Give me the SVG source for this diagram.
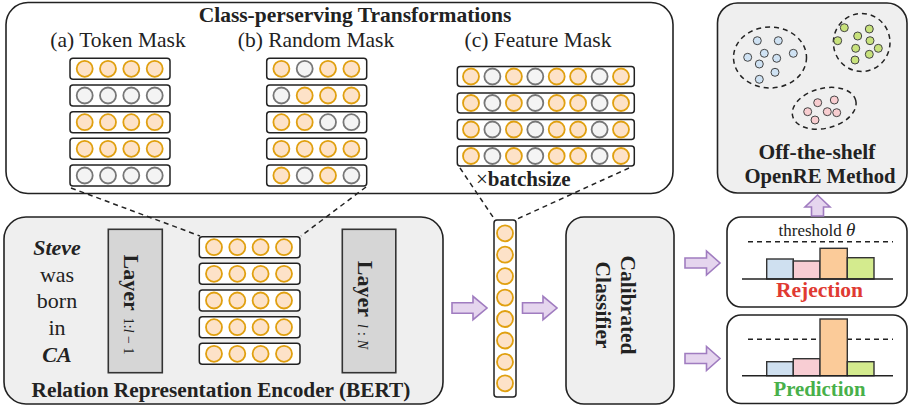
<svg xmlns="http://www.w3.org/2000/svg" width="909" height="410" viewBox="0 0 909 410">
<defs>
<style>
text{font-family:"Liberation Serif","Times New Roman",serif;fill:#222}
.panel{fill:#fff;stroke:#222;stroke-width:1.6}
.gpanel{fill:#efefef;stroke:#222;stroke-width:1.6}
.row{fill:#fff;stroke:#222;stroke-width:1.5}
.o{fill:#fde2c8;stroke:#e0a010;stroke-width:1.8}
.g{fill:#f4f4f4;stroke:#777;stroke-width:1.8}
.layer{fill:#d6d6d6;stroke:#333;stroke-width:1.6}
.dash{fill:none;stroke:#222;stroke-width:1.5;stroke-dasharray:5,4}
.arrow{fill:#e5d5ee;stroke:#a07cc0;stroke-width:1.6}
.axis{stroke:#222;stroke-width:1.6}
.bar{stroke:#333;stroke-width:1.4}
.dot{stroke:#444;stroke-width:1}
.b{font-weight:bold}
</style>
</defs>

<!-- Top panel: transformations -->
<g id="transformations">
<rect class="panel" x="6" y="2.5" width="667" height="191" rx="22"/>
<text class="b" x="355" y="22" font-size="21.5" text-anchor="middle">Class-perserving Transformations</text>
<text x="118" y="46.5" font-size="21.5" text-anchor="middle">(a) Token Mask</text>
<text x="316" y="46.5" font-size="21.5" text-anchor="middle">(b) Random Mask</text>
<text x="538" y="46.5" font-size="21.5" text-anchor="middle">(c) Feature Mask</text>
</g>

<g id="token-mask">
<rect class="row" x="70" y="58.3" width="100" height="21" rx="3"/>
<circle class="o" cx="84.7" cy="68.8" r="8"/><circle class="o" cx="108" cy="68.8" r="8"/><circle class="o" cx="131.3" cy="68.8" r="8"/><circle class="o" cx="154.7" cy="68.8" r="8"/>
<rect class="row" x="70" y="85" width="100" height="21" rx="3"/>
<circle class="g" cx="84.7" cy="95.5" r="8"/><circle class="g" cx="108" cy="95.5" r="8"/><circle class="g" cx="131.3" cy="95.5" r="8"/><circle class="g" cx="154.7" cy="95.5" r="8"/>
<rect class="row" x="70" y="111.7" width="100" height="21" rx="3"/>
<circle class="o" cx="84.7" cy="122.2" r="8"/><circle class="o" cx="108" cy="122.2" r="8"/><circle class="o" cx="131.3" cy="122.2" r="8"/><circle class="o" cx="154.7" cy="122.2" r="8"/>
<rect class="row" x="70" y="138.3" width="100" height="21" rx="3"/>
<circle class="o" cx="84.7" cy="148.8" r="8"/><circle class="o" cx="108" cy="148.8" r="8"/><circle class="o" cx="131.3" cy="148.8" r="8"/><circle class="o" cx="154.7" cy="148.8" r="8"/>
<rect class="row" x="70" y="165" width="100" height="21" rx="3"/>
<circle class="g" cx="84.7" cy="175.5" r="8"/><circle class="g" cx="108" cy="175.5" r="8"/><circle class="g" cx="131.3" cy="175.5" r="8"/><circle class="g" cx="154.7" cy="175.5" r="8"/>
</g>

<g id="random-mask">
<rect class="row" x="266.7" y="58.3" width="100" height="21" rx="3"/>
<circle class="o" cx="281.4" cy="68.8" r="8"/><circle class="g" cx="304.7" cy="68.8" r="8"/><circle class="o" cx="328" cy="68.8" r="8"/><circle class="o" cx="351.4" cy="68.8" r="8"/>
<rect class="row" x="266.7" y="85" width="100" height="21" rx="3"/>
<circle class="g" cx="281.4" cy="95.5" r="8"/><circle class="o" cx="304.7" cy="95.5" r="8"/><circle class="o" cx="328" cy="95.5" r="8"/><circle class="o" cx="351.4" cy="95.5" r="8"/>
<rect class="row" x="266.7" y="111.7" width="100" height="21" rx="3"/>
<circle class="o" cx="281.4" cy="122.2" r="8"/><circle class="o" cx="304.7" cy="122.2" r="8"/><circle class="g" cx="328" cy="122.2" r="8"/><circle class="g" cx="351.4" cy="122.2" r="8"/>
<rect class="row" x="266.7" y="138.3" width="100" height="21" rx="3"/>
<circle class="o" cx="281.4" cy="148.8" r="8"/><circle class="o" cx="304.7" cy="148.8" r="8"/><circle class="o" cx="328" cy="148.8" r="8"/><circle class="o" cx="351.4" cy="148.8" r="8"/>
<rect class="row" x="266.7" y="165" width="100" height="21" rx="3"/>
<circle class="o" cx="281.4" cy="175.5" r="8"/><circle class="g" cx="304.7" cy="175.5" r="8"/><circle class="o" cx="328" cy="175.5" r="8"/><circle class="g" cx="351.4" cy="175.5" r="8"/>
</g>

<g id="feature-mask">
<rect class="row" x="457.3" y="66.5" width="177" height="20" rx="3"/>
<circle class="o" cx="471" cy="76.5" r="8"/><circle class="g" cx="492.4" cy="76.5" r="8"/><circle class="o" cx="513.9" cy="76.5" r="8"/><circle class="g" cx="535.3" cy="76.5" r="8"/><circle class="o" cx="556.7" cy="76.5" r="8"/><circle class="o" cx="578.1" cy="76.5" r="8"/><circle class="g" cx="599.6" cy="76.5" r="8"/><circle class="o" cx="621" cy="76.5" r="8"/>
<rect class="row" x="457.3" y="93" width="177" height="20" rx="3"/>
<circle class="o" cx="471" cy="103" r="8"/><circle class="g" cx="492.4" cy="103" r="8"/><circle class="o" cx="513.9" cy="103" r="8"/><circle class="g" cx="535.3" cy="103" r="8"/><circle class="o" cx="556.7" cy="103" r="8"/><circle class="o" cx="578.1" cy="103" r="8"/><circle class="g" cx="599.6" cy="103" r="8"/><circle class="o" cx="621" cy="103" r="8"/>
<rect class="row" x="457.3" y="119.5" width="177" height="20" rx="3"/>
<circle class="o" cx="471" cy="129.5" r="8"/><circle class="g" cx="492.4" cy="129.5" r="8"/><circle class="o" cx="513.9" cy="129.5" r="8"/><circle class="g" cx="535.3" cy="129.5" r="8"/><circle class="o" cx="556.7" cy="129.5" r="8"/><circle class="o" cx="578.1" cy="129.5" r="8"/><circle class="g" cx="599.6" cy="129.5" r="8"/><circle class="o" cx="621" cy="129.5" r="8"/>
<rect class="row" x="457.3" y="146" width="177" height="20" rx="3"/>
<circle class="o" cx="471" cy="156" r="8"/><circle class="g" cx="492.4" cy="156" r="8"/><circle class="o" cx="513.9" cy="156" r="8"/><circle class="g" cx="535.3" cy="156" r="8"/><circle class="o" cx="556.7" cy="156" r="8"/><circle class="o" cx="578.1" cy="156" r="8"/><circle class="g" cx="599.6" cy="156" r="8"/><circle class="o" cx="621" cy="156" r="8"/>
<text x="476" y="186" font-size="21">×<tspan class="b">batchsize</tspan></text>
</g>

<!-- OpenRE panel -->
<g id="openre">
<rect class="gpanel" x="717.5" y="3" width="189.5" height="190" rx="20"/>
<ellipse class="dash" cx="770" cy="57.5" rx="36.5" ry="30.5"/>
<ellipse class="dash" cx="861.7" cy="42.5" rx="28.3" ry="29"/>
<ellipse class="dash" cx="824.2" cy="108.3" rx="32.5" ry="20" transform="rotate(-14 824.2 108.3)"/>
<g fill="#cfe2f3">
<circle class="dot" cx="757.3" cy="40.7" r="4"/><circle class="dot" cx="778.3" cy="40.7" r="4"/><circle class="dot" cx="747.7" cy="57.3" r="4"/><circle class="dot" cx="764.3" cy="53.3" r="4"/><circle class="dot" cx="776.7" cy="58.3" r="4"/><circle class="dot" cx="793.3" cy="53.3" r="4"/><circle class="dot" cx="759.3" cy="64" r="4"/><circle class="dot" cx="775" cy="72.3" r="4"/><circle class="dot" cx="759.3" cy="79.3" r="4"/>
</g>
<g fill="#c8e27c">
<circle class="dot" cx="844.3" cy="27.7" r="4"/><circle class="dot" cx="869.3" cy="29" r="4"/><circle class="dot" cx="837.7" cy="40.7" r="4"/><circle class="dot" cx="857.7" cy="36" r="4"/><circle class="dot" cx="870" cy="40.7" r="4"/><circle class="dot" cx="855.7" cy="48.3" r="4"/><circle class="dot" cx="878.3" cy="48.3" r="4"/><circle class="dot" cx="869.3" cy="54.3" r="4"/><circle class="dot" cx="855" cy="60" r="4"/>
</g>
<g fill="#f8cdd0">
<circle class="dot" cx="817.7" cy="102.7" r="4"/><circle class="dot" cx="834.3" cy="100" r="4"/><circle class="dot" cx="807.7" cy="111.7" r="4"/><circle class="dot" cx="827.3" cy="111.7" r="4"/><circle class="dot" cx="836.7" cy="112.7" r="4"/><circle class="dot" cx="815" cy="120" r="4"/>
</g>
<text class="b" x="817" y="159" font-size="21.5" text-anchor="middle">Off-the-shelf</text>
<text class="b" x="820" y="183" font-size="20.7" text-anchor="middle">OpenRE Method</text>
</g>

<!-- Encoder -->
<g id="encoder">
<rect class="gpanel" x="4" y="217" width="439" height="187" rx="22"/>
<text x="57" y="255" font-size="22" text-anchor="middle" class="b" font-style="italic">Steve</text>
<text x="57" y="282" font-size="22" text-anchor="middle">was</text>
<text x="57" y="308" font-size="22" text-anchor="middle">born</text>
<text x="57" y="335" font-size="22" text-anchor="middle">in</text>
<text x="57" y="362" font-size="22" text-anchor="middle" class="b" font-style="italic">CA</text>
<text class="b" x="221" y="396.5" font-size="21.3" text-anchor="middle">Relation Representation Encoder (BERT)</text>
</g>

<g id="layer-1">
<rect class="layer" x="108.3" y="229.3" width="54" height="143.4"/>
<text transform="translate(124,304.5) rotate(90)" text-anchor="middle"><tspan class="b" font-size="22">Layer</tspan><tspan font-size="14" dx="7">1:<tspan font-style="italic">l</tspan> − 1</tspan></text>
</g>

<g id="hidden-rows">
<rect class="row" x="199.3" y="236.7" width="100.7" height="21" rx="3"/>
<circle class="o" cx="214" cy="247.2" r="8"/><circle class="o" cx="237.3" cy="247.2" r="8"/><circle class="o" cx="260.6" cy="247.2" r="8"/><circle class="o" cx="284" cy="247.2" r="8"/>
<rect class="row" x="199.3" y="263.3" width="100.7" height="21" rx="3"/>
<circle class="o" cx="214" cy="273.8" r="8"/><circle class="o" cx="237.3" cy="273.8" r="8"/><circle class="o" cx="260.6" cy="273.8" r="8"/><circle class="o" cx="284" cy="273.8" r="8"/>
<rect class="row" x="199.3" y="290" width="100.7" height="21" rx="3"/>
<circle class="o" cx="214" cy="300.5" r="8"/><circle class="o" cx="237.3" cy="300.5" r="8"/><circle class="o" cx="260.6" cy="300.5" r="8"/><circle class="o" cx="284" cy="300.5" r="8"/>
<rect class="row" x="199.3" y="316.7" width="100.7" height="21" rx="3"/>
<circle class="o" cx="214" cy="327.2" r="8"/><circle class="o" cx="237.3" cy="327.2" r="8"/><circle class="o" cx="260.6" cy="327.2" r="8"/><circle class="o" cx="284" cy="327.2" r="8"/>
<rect class="row" x="199.3" y="343.3" width="100.7" height="21" rx="3"/>
<circle class="o" cx="214" cy="353.8" r="8"/><circle class="o" cx="237.3" cy="353.8" r="8"/><circle class="o" cx="260.6" cy="353.8" r="8"/><circle class="o" cx="284" cy="353.8" r="8"/>
</g>

<g id="layer-N">
<rect class="layer" x="342.3" y="229.3" width="53.5" height="143.4"/>
<text transform="translate(358,305) rotate(90)" text-anchor="middle"><tspan class="b" font-size="22">Layer</tspan><tspan font-size="14" dx="7" font-style="italic">l</tspan><tspan font-size="14" dx="4">:</tspan><tspan font-size="14" dx="4" font-style="italic">N</tspan></text>
</g>

<g id="representation">
<rect class="row" x="494" y="220" width="22" height="177" rx="3"/>
<circle class="o" cx="505" cy="233.3" r="8"/><circle class="o" cx="505" cy="254.7" r="8"/><circle class="o" cx="505" cy="276.2" r="8"/><circle class="o" cx="505" cy="297.6" r="8"/><circle class="o" cx="505" cy="319" r="8"/><circle class="o" cx="505" cy="340.5" r="8"/><circle class="o" cx="505" cy="361.9" r="8"/><circle class="o" cx="505" cy="383.3" r="8"/>
</g>

<g id="classifier">
<rect class="gpanel" x="566" y="217" width="108" height="187" rx="18"/>
<text transform="translate(620,305) rotate(90)" text-anchor="middle" class="b" font-size="21.5"><tspan x="0" y="-1">Calibrated</tspan><tspan x="0" y="24">Classifier</tspan></text>
</g>

<g id="rejection">
<rect class="panel" x="727" y="217" width="180" height="90" rx="14"/>
<text x="817" y="236" font-size="17" text-anchor="middle">threshold <tspan font-style="italic" font-size="19">θ</tspan></text>
<line class="dash" x1="748" y1="241.7" x2="893" y2="241.7"/>
<rect class="bar" x="766.7" y="259" width="26.6" height="20" fill="#cfe0f0"/>
<rect class="bar" x="793.3" y="261" width="26.7" height="18" fill="#f8cdd3"/>
<rect class="bar" x="820" y="248.3" width="27.3" height="30.7" fill="#fbcb99"/>
<rect class="bar" x="847.3" y="257.7" width="26.7" height="21.3" fill="#d4eb8e"/>
<line class="axis" x1="742" y1="279" x2="893" y2="279"/>
<text class="b" x="819.5" y="297" font-size="21.5" text-anchor="middle" style="fill:#e03a32">Rejection</text>
</g>

<g id="prediction">
<rect class="panel" x="727" y="315" width="180" height="88.5" rx="14"/>
<line class="dash" x1="748" y1="339.3" x2="893" y2="339.3"/>
<rect class="bar" x="766.7" y="361.7" width="26.6" height="14" fill="#cfe0f0"/>
<rect class="bar" x="793.3" y="358.7" width="26.7" height="17" fill="#f8cdd3"/>
<rect class="bar" x="820" y="319" width="27.3" height="56.7" fill="#fbcb99"/>
<rect class="bar" x="847.3" y="361.7" width="26.7" height="14" fill="#d4eb8e"/>
<line class="axis" x1="742" y1="375.7" x2="893" y2="375.7"/>
<text class="b" x="819.5" y="396" font-size="20.8" text-anchor="middle" style="fill:#48b04a">Prediction</text>
</g>

<g id="connectors">
<line class="dash" x1="71" y1="188" x2="200" y2="236"/>
<line class="dash" x1="366" y1="187" x2="301" y2="236"/>
<line class="dash" x1="460" y1="168" x2="495" y2="220"/>
<line class="dash" x1="629" y1="168" x2="515" y2="220"/>
<path class="arrow" d="M452,302.7 H473 V296.3 L487,308 L473,319.7 V313.3 H452 Z"/>
<path class="arrow" d="M522.5,302.7 H543 V296.3 L557,308 L543,319.7 V313.3 H522.5 Z"/>
<path class="arrow" d="M685,258 H706.5 V251 L720,263 L706.5,275 V268 H685 Z"/>
<path class="arrow" d="M685,353.5 H706.5 V346.5 L720,358.5 L706.5,370.5 V363.5 H685 Z"/>
<path class="arrow" d="M811.5,216 V207 H805 L817.5,195 L830,207 H823.5 V216 Z"/>
</g>
</svg>
